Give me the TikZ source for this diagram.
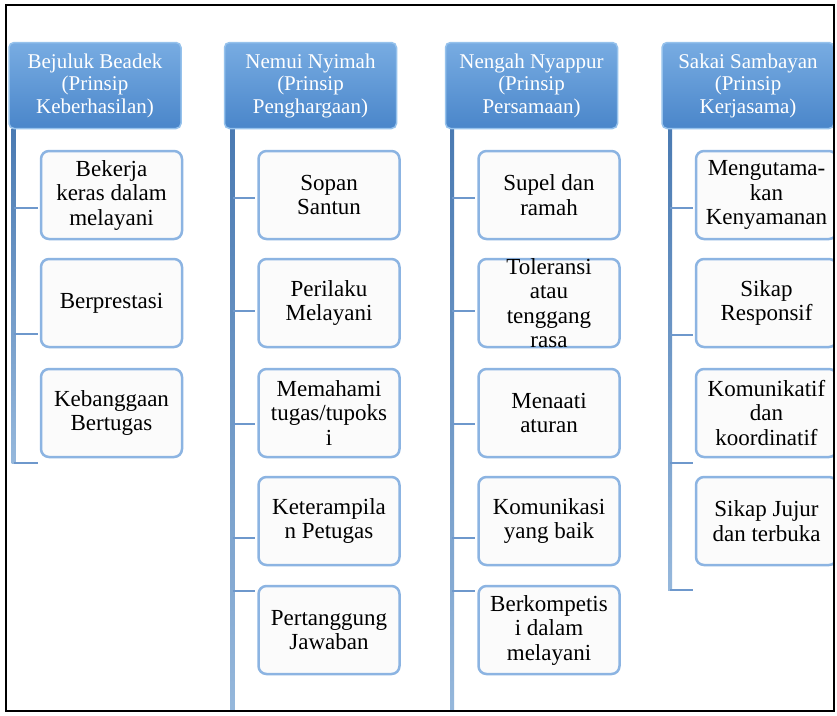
\documentclass[tikz,border=0pt]{standalone}
\usepackage{fontspec}
\setmainfont{Liberation Serif}
\usetikzlibrary{calc}

\definecolor{hdtop}{RGB}{120,172,226}
\definecolor{hdmid}{RGB}{90,148,212}
\definecolor{hdbot}{RGB}{74,134,202}
\definecolor{hdrim}{RGB}{150,194,236}
\definecolor{boxfill}{RGB}{251,251,251}
\definecolor{boxrim}{RGB}{140,180,226}
\definecolor{lntop}{RGB}{74,122,178}
\definecolor{lnbot}{RGB}{150,184,220}
\definecolor{stubcol}{RGB}{110,152,204}

\tikzset{
  header/.style={rectangle, rounded corners=5pt, minimum width=172pt,
    minimum height=86pt, inner sep=2pt, align=center,
    font=\fontsize{21}{22.5}\selectfont, text=white,
    top color=hdtop, middle color=hdmid, bottom color=hdbot,
    draw=hdrim, line width=1.5pt},
  itembox/.style={rectangle, rounded corners=8pt, minimum width=141pt,
    minimum height=88pt, inner sep=0pt, fill=boxfill, draw=boxrim,
    line width=2.5pt},
  itemtext/.style={align=center, font=\fontsize{23}{24.5}\selectfont,
    text=black, inner sep=0pt},
  vline/.style={top color=lntop, bottom color=lnbot},
  stub/.style={draw=stubcol, line width=2.5pt, shorten >=2pt},
  frame/.style={draw=black, line width=2pt}
}

% box with its text set on top, so long texts may run past the border
\newcommand\listbox[4]{%
  \node[itembox] (#1) at (#2,#3) {};
  \node[itemtext] at (#1) {#4};
}

\begin{document}
\begin{tikzpicture}[x=1pt,y=-1pt]
\useasboundingbox (0,0) rectangle (837,715);
\fill[white] (0,0) rectangle (837,715);

\begin{scope}
\clip (6,5) rectangle (834,711);

% ---------- spine lines ----------
\coordinate (v1top) at (13.5,128);  \coordinate (v1end) at (13.5,463);
\coordinate (v2top) at (232.5,128); \coordinate (v2end) at (232.5,715);
\coordinate (v3top) at (452,128);   \coordinate (v3end) at (452,715);
\coordinate (v4top) at (670,128);   \coordinate (v4end) at (670,590);
\foreach \c in {1,2,3,4}{
  \shade[vline] ($(v\c top)+(-2,0)$) rectangle ($(v\c end)+(2,0)$);
}

% ---------- column 1 ----------
\listbox{a1}{111.5}{195}{Bekerja\\keras dalam\\melayani}
\listbox{a2}{111.5}{303}{Berprestasi}
\listbox{a3}{111.5}{413}{Kebanggaan\\Bertugas}

% ---------- column 2 ----------
\listbox{b1}{329}{195}{Sopan\\Santun}
\listbox{b2}{329}{303}{Perilaku\\Melayani}
\listbox{b3}{329}{413}{Memahami\\tugas/tupoks\\i}
\listbox{b4}{329}{521}{Keterampila\\n Petugas}
\listbox{b5}{329}{630}{Pertanggung\\Jawaban}

% ---------- column 3 ----------
\listbox{c1}{549}{195}{Supel dan\\ramah}
\listbox{c2}{549}{303}{Toleransi\\atau\\tenggang\\rasa}
\listbox{c3}{549}{413}{Menaati\\aturan}
\listbox{c4}{549}{521}{Komunikasi\\yang baik}
\listbox{c5}{549}{630}{Berkompetis\\i dalam\\melayani}

% ---------- column 4 ----------
\listbox{d1}{766.5}{195}{Mengutama-\\kan\\Kenyamanan}
\listbox{d2}{766.5}{303}{Sikap\\Responsif}
\listbox{d3}{766.5}{413}{Komunikatif\\dan\\koordinatif}
\listbox{d4}{766.5}{521}{Sikap Jujur\\dan terbuka}

% ---------- branch stubs ----------
\coordinate (s11) at (13.5,208);  \draw[stub] (s11) -- (s11 -| a1.west);
\coordinate (s12) at (13.5,334);  \draw[stub] (s12) -- (s12 -| a2.west);
\draw[stub] (v1end) -- (v1end -| a3.west);

\coordinate (s21) at (232.5,198); \draw[stub] (s21) -- (s21 -| b1.west);
\coordinate (s22) at (232.5,311); \draw[stub] (s22) -- (s22 -| b2.west);
\coordinate (s23) at (232.5,424); \draw[stub] (s23) -- (s23 -| b3.west);
\coordinate (s24) at (232.5,538); \draw[stub] (s24) -- (s24 -| b4.west);
\coordinate (s25) at (232.5,591); \draw[stub] (s25) -- (s25 -| b5.west);

\coordinate (s31) at (452,198);   \draw[stub] (s31) -- (s31 -| c1.west);
\coordinate (s32) at (452,311);   \draw[stub] (s32) -- (s32 -| c2.west);
\coordinate (s33) at (452,424);   \draw[stub] (s33) -- (s33 -| c3.west);
\coordinate (s34) at (452,538);   \draw[stub] (s34) -- (s34 -| c4.west);
\coordinate (s35) at (452,591);   \draw[stub] (s35) -- (s35 -| c5.west);

\coordinate (s41) at (670,208);   \draw[stub] (s41) -- (s41 -| d1.west);
\coordinate (s42) at (670,335);   \draw[stub] (s42) -- (s42 -| d2.west);
\coordinate (s43) at (670,463);   \draw[stub] (s43) -- (s43 -| d3.west);
\draw[stub] (v4end) -- (v4end -| d4.west);

% ---------- headers ----------
\node[header] (h1) at (95,85.5)  {Bejuluk Beadek\\(Prinsip\\Keberhasilan)};
\node[header] (h2) at (310.5,85.5) {Nemui Nyimah\\(Prinsip\\Penghargaan)};
\node[header] (h3) at (531.5,85.5) {Nengah Nyappur\\(Prinsip\\Persamaan)};
\node[header] (h4) at (748,85.5) {Sakai Sambayan\\(Prinsip\\Kerjasama)};
\end{scope}

\draw[frame] (6,5) rectangle (834,711);
\end{tikzpicture}
\end{document}
